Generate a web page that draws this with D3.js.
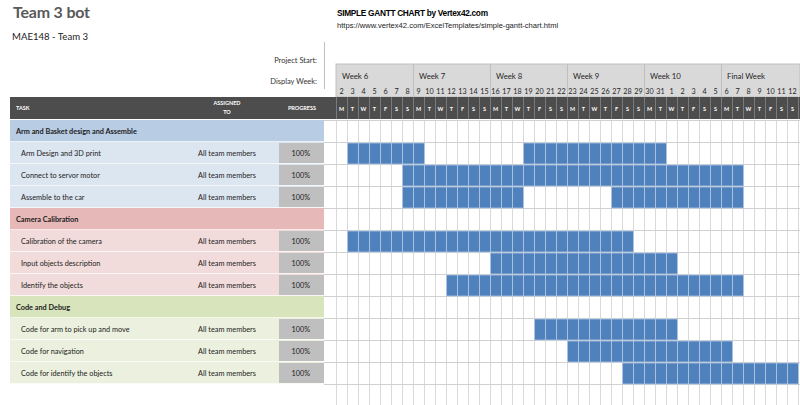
<!DOCTYPE html>
<html>
<head>
<meta charset="utf-8">
<script src="https://cdn.jsdelivr.net/npm/d3@7"></script>
<style>
  body { margin: 0; background: #fff; }
  svg { display: block; font-family: Lato, "Open Sans", sans-serif; }
</style>
</head>
<body>
<div id="gantt"></div>
<script>
// ---- data read from the sheet ----
const weekLabels = ["Week 6", "Week 7", "Week 8", "Week 9", "Week 10", "Final Week"];
const dayNumbers = [2, 3, 4, 5, 6, 7, 8, 9, 10, 11, 12, 13, 14, 15, 16, 17, 18, 19, 20, 21, 22,
                    23, 24, 25, 26, 27, 28, 29, 30, 31, 1, 2, 3, 4, 5, 6, 7, 8, 9, 10, 11, 12];
const dayLetters = ["M", "T", "W", "T", "F", "S", "S"];

const sections = ["Arm and Basket design and Assemble", "Camera Calibration", "Code and Debug"];
const sectionFill = ["#b8cce4", "#e6b8b7", "#d8e4bc"];
const taskFill = ["#dce6f1", "#f2dcdb", "#ebf1de"];

const taskNames = [
    "Arm Design and 3D print", "Connect to servor motor", "Assemble to the car",
    "Calibration of the camera", "Input objects description", "Identify the objects",
    "Code for arm to pick up and move", "Code for navigation", "Code for identify the objects"
];
const taskSection = [0, 0, 0, 1, 1, 1, 2, 2, 2];
const assignedTo = ["All team members", "All team members", "All team members",
    "All team members", "All team members", "All team members",
    "All team members", "All team members", "All team members"];
const progress = [100, 100, 100, 100, 100, 100, 100, 100, 100];
// filled day cells per task, as [first day index, last day index]
const taskSpans = [
    [[1, 7], [17, 29]],
    [[6, 36]],
    [[6, 16], [25, 36]],
    [[1, 26]],
    [[14, 30]],
    [[10, 36]],
    [[18, 30]],
    [[21, 35]],
    [[26, 41]]
];

const ctx = {
    w: 800, h: 405,
    tableLeft: 10, tableRight: 324,
    gridLeft: 336, gridRight: 798,
    weekTop: 64, headTop: 97, rowTop: 120, rowH: 22
};

function createViz() {
    const svg = d3.select("#gantt").append("svg")
        .attr("width", ctx.w)
        .attr("height", ctx.h);

    // build the rows list: section header then its tasks
    const rows = [];
    sections.forEach((s, si) => {
        rows.push({ type: "section", name: s, sec: si });
        taskNames.forEach((t, ti) => {
            if (taskSection[ti] === si) rows.push({ type: "task", name: t, sec: si, idx: ti });
        });
    });

    const x = d3.scaleBand()
        .domain(d3.range(dayNumbers.length))
        .range([ctx.gridLeft, ctx.gridRight]);
    const y = d3.scaleBand()
        .domain(d3.range(rows.length))
        .range([ctx.rowTop, ctx.rowTop + rows.length * ctx.rowH]);

    // titles
    svg.append("text").attr("x", 13).attr("y", 18)
        .attr("font-size", 16).attr("font-weight", "bold").attr("fill", "#595959")
        .attr("letter-spacing", -0.2)
        .text("Team 3 bot");
    svg.append("text").attr("x", 12).attr("y", 40)
        .attr("font-size", 9.6).attr("fill", "#222")
        .text("MAE148 - Team 3");
    svg.append("text").attr("x", 337).attr("y", 16)
        .attr("font-size", 8.3).attr("font-weight", "bold").attr("fill", "#000")
        .attr("font-family", "'Liberation Sans', Arial, sans-serif").attr("letter-spacing", -0.3)
        .text("SIMPLE GANTT CHART by Vertex42.com");
    svg.append("text").attr("x", 337).attr("y", 28)
        .attr("font-size", 7.6).attr("fill", "#222")
        .attr("font-family", "'Liberation Sans', Arial, sans-serif")
        .text("https://www.vertex42.com/ExcelTemplates/simple-gantt-chart.html");

    svg.append("text").attr("x", 317).attr("y", 63).attr("text-anchor", "end")
        .attr("font-size", 7.5).attr("fill", "#333").text("Project Start:");
    svg.append("text").attr("x", 317).attr("y", 84).attr("text-anchor", "end")
        .attr("font-size", 7.5).attr("fill", "#333").text("Display Week:");
    svg.append("line").attr("x1", 324.5).attr("x2", 324.5).attr("y1", 42).attr("y2", 89)
        .attr("stroke", "#bfbfbf");

    // week header
    svg.append("rect").attr("x", ctx.gridLeft).attr("y", ctx.weekTop)
        .attr("width", ctx.gridRight - ctx.gridLeft + 2).attr("height", ctx.headTop - ctx.weekTop)
        .attr("fill", "#d9d9d9").attr("stroke", "#bfbfbf");
    weekLabels.forEach((w, i) => {
        const wx = x(i * 7);
        if (i > 0) {
            svg.append("line").attr("x1", wx + 0.5).attr("x2", wx + 0.5)
                .attr("y1", ctx.weekTop).attr("y2", ctx.headTop).attr("stroke", "#bfbfbf");
        }
        svg.append("text").attr("x", wx + 6).attr("y", 79)
            .attr("font-size", 7.8).attr("fill", "#262626").text(w);
    });
    svg.append("g").selectAll("text").data(dayNumbers).join("text")
        .attr("x", (d, i) => x(i) + x.bandwidth() / 2)
        .attr("y", 94)
        .attr("text-anchor", "middle")
        .attr("font-size", 7.2).attr("fill", "#262626")
        .text(d => d);

    // dark header bar
    svg.append("rect").attr("x", ctx.tableLeft).attr("y", ctx.headTop)
        .attr("width", ctx.w - ctx.tableLeft).attr("height", ctx.rowTop - ctx.headTop - 1)
        .attr("fill", "#4d4d4d");
    const headText = (tx, ty, t, anchor) => {
        svg.append("text").attr("x", tx).attr("y", ty).attr("text-anchor", anchor)
            .attr("font-size", 5.5).attr("font-weight", "bold").attr("fill", "#fff")
            .text(t);
    };
    headText(16, 110, "TASK", "start");
    headText(227, 105, "ASSIGNED", "middle");
    headText(227, 114, "TO", "middle");
    headText(302, 110, "PROGRESS", "middle");
    svg.append("g").selectAll("line").data(d3.range(dayNumbers.length + 1)).join("line")
        .attr("x1", i => (i < dayNumbers.length ? x(i) : ctx.gridRight) + 0.5)
        .attr("x2", i => (i < dayNumbers.length ? x(i) : ctx.gridRight) + 0.5)
        .attr("y1", ctx.headTop).attr("y2", ctx.rowTop - 1)
        .attr("stroke", "#7a7a7a");
    svg.append("g").selectAll("text").data(dayNumbers).join("text")
        .attr("x", (d, i) => x(i) + x.bandwidth() / 2)
        .attr("y", 110.5)
        .attr("text-anchor", "middle")
        .attr("font-size", 5.5).attr("font-weight", "bold").attr("fill", "#fff")
        .text((d, i) => dayLetters[i % 7]);

    // grid lines
    const grid = svg.append("g");
    grid.selectAll("line.v").data(d3.range(dayNumbers.length + 1)).join("line")
        .attr("class", "v")
        .attr("x1", i => (i < dayNumbers.length ? x(i) : ctx.gridRight) + 0.5)
        .attr("x2", i => (i < dayNumbers.length ? x(i) : ctx.gridRight) + 0.5)
        .attr("y1", ctx.rowTop).attr("y2", ctx.h)
        .attr("stroke", "#d9d9d9");
    grid.selectAll("line.h").data(d3.range(rows.length + 1)).join("line")
        .attr("class", "h")
        .attr("x1", ctx.tableRight).attr("x2", ctx.w)
        .attr("y1", i => ctx.rowTop + i * ctx.rowH + 0.5)
        .attr("y2", i => ctx.rowTop + i * ctx.rowH + 0.5)
        .attr("stroke", "#d0d0d0");

    // table rows
    const rowG = svg.append("g").selectAll("g").data(rows).join("g")
        .attr("transform", (d, i) => `translate(0,${y(i)})`);
    rowG.append("rect")
        .attr("x", ctx.tableLeft).attr("y", 0)
        .attr("width", ctx.tableRight - ctx.tableLeft).attr("height", ctx.rowH)
        .attr("fill", d => d.type === "section" ? sectionFill[d.sec] : taskFill[d.sec]);
    rowG.append("line")
        .attr("x1", ctx.tableLeft).attr("x2", ctx.tableRight)
        .attr("y1", ctx.rowH - 0.5).attr("y2", ctx.rowH - 0.5)
        .attr("stroke", "#ffffff").attr("stroke-opacity", 0.7);
    rowG.append("text")
        .attr("x", d => d.type === "section" ? 16 : 21)
        .attr("y", ctx.rowH / 2 + 3)
        .attr("font-size", 7.3)
        .attr("font-weight", d => d.type === "section" ? "bold" : "normal")
        .attr("fill", "#222")
        .text(d => d.name);

    const taskRows = rowG.filter(d => d.type === "task");
    taskRows.append("text")
        .attr("x", 227).attr("y", ctx.rowH / 2 + 3)
        .attr("text-anchor", "middle").attr("font-size", 7.3).attr("fill", "#222")
        .text(d => assignedTo[d.idx]);
    taskRows.append("rect")
        .attr("x", 279).attr("y", 1)
        .attr("width", ctx.tableRight - 279).attr("height", ctx.rowH - 2)
        .attr("fill", "#bfbfbf");
    taskRows.append("text")
        .attr("x", 310).attr("y", ctx.rowH / 2 + 3)
        .attr("text-anchor", "end").attr("font-size", 7.3).attr("fill", "#222")
        .text(d => progress[d.idx] + "%");

    // bars, one filled block per day cell
    const cells = [];
    rows.forEach((r, ri) => {
        if (r.type !== "task") return;
        taskSpans[r.idx].forEach(([a, b]) => {
            d3.range(a, b + 1).forEach(day => cells.push({ row: ri, day }));
        });
    });
    svg.append("g").selectAll("rect").data(cells).join("rect")
        .attr("x", d => x(d.day) + 0.5)
        .attr("y", d => y(d.row) + 1)
        .attr("width", x.bandwidth())
        .attr("height", y.bandwidth() - 1)
        .attr("fill", "#4f81bd")
        .attr("stroke", "#b4c8e4").attr("stroke-width", 0.8);
}

document.addEventListener("DOMContentLoaded", function () {
    createViz();
});
</script>
</body>
</html>
